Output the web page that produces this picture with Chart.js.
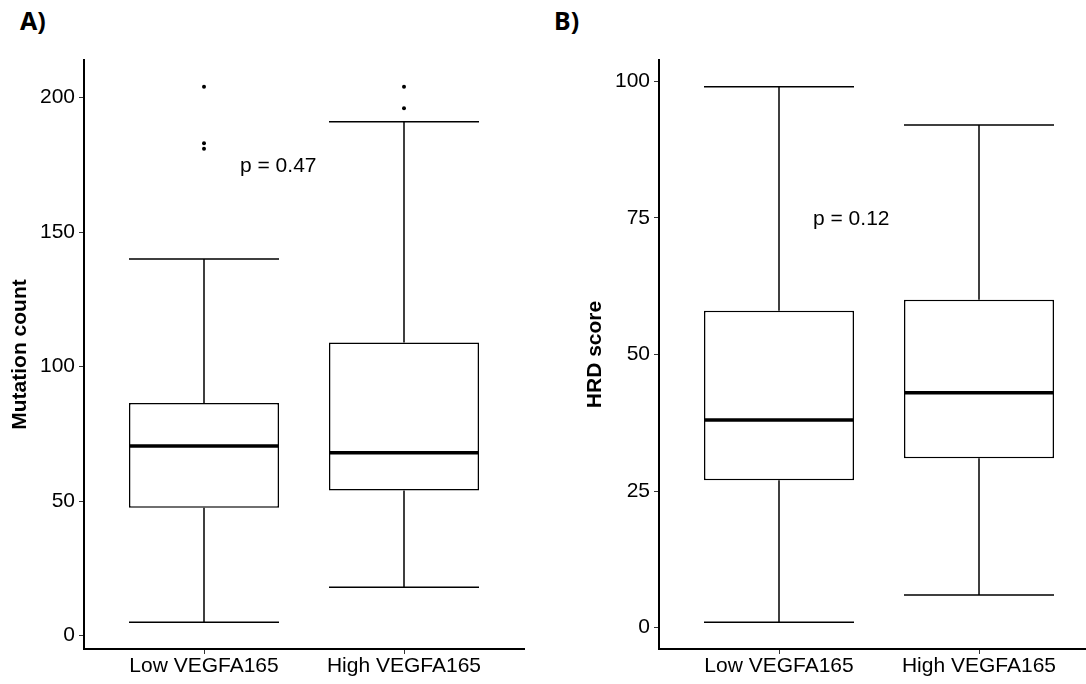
<!DOCTYPE html>
<html>
<head>
<meta charset="utf-8">
<title>VEGFA165 box plots</title>
<script src="https://cdn.jsdelivr.net/npm/chart.js@4.4.1/dist/chart.umd.min.js"></script>
<style>
  html, body { margin: 0; padding: 0; background: #fff; overflow: hidden; }
  body { width: 1086px; height: 684px; position: relative; }
  canvas { position: absolute; top: 0; }
  #chart-a { left: 0; }
  #chart-b { left: 575px; }
  .panel-tag { position: absolute; top: 3px; font: bold 25px 'Noto Sans', sans-serif; color: #000; }
</style>
</head>
<body>
<div class="panel-tag" style="left:20px">A)</div>
<div class="panel-tag" style="left:554px">B)</div>
<canvas id="chart-a" width="543" height="684"></canvas>
<canvas id="chart-b" width="543" height="684"></canvas>
<script>
const groups = ['Low VEGFA165', 'High VEGFA165'];
const groupPos = [1, 2];

// Mutation count, panel A
const mutMin = [5, 18];
const mutQ1 = [47.5, 54];
const mutMedian = [70.5, 68];
const mutQ3 = [86.5, 109];
const mutMax = [140, 191];
const mutOutliers = [[204, 183, 181], [204, 196]];
const mutTicks = [0, 50, 100, 150, 200];

// HRD score, panel B
const hrdMin = [1, 6];
const hrdQ1 = [27, 31];
const hrdMedian = [38, 43];
const hrdQ3 = [58, 60];
const hrdMax = [99, 92];
const hrdOutliers = [[], []];
const hrdTicks = [0, 25, 50, 75, 100];

// p-value labels (text, left x in group units, y in data units)
const pLabels = ['p = 0.47', 'p = 0.12'];
const pLabelX = [1.18, 1.17];
const pLabelY = [174.3, 74.7];

Chart.defaults.font.family = "'Liberation Sans', Arial, Helvetica, sans-serif";
Chart.defaults.font.size = 21;
Chart.defaults.color = '#000';

// whiskers, caps and medians, placed from the bar elements and the y scale
const boxParts = {
    id: 'boxParts',
    afterDatasetsDraw(chart, args, opts) {
        const ctx = chart.ctx;
        const y = chart.scales.y;
        const bars = chart.getDatasetMeta(0).data;
        ctx.save();
        ctx.strokeStyle = '#000';
        bars.forEach((bar, i) => {
            const {x, width} = bar.getProps(['x', 'width'], true);
            const half = width / 2;
            const pMin = y.getPixelForValue(opts.mins[i]);
            const pMax = y.getPixelForValue(opts.maxs[i]);
            const pQ1 = y.getPixelForValue(opts.q1s[i]);
            const pQ3 = y.getPixelForValue(opts.q3s[i]);
            const pMed = y.getPixelForValue(opts.medians[i]);
            ctx.lineWidth = 1.5;
            ctx.beginPath();
            ctx.moveTo(x, pQ3); ctx.lineTo(x, pMax);
            ctx.moveTo(x, pQ1); ctx.lineTo(x, pMin);
            ctx.moveTo(x - half, pMax); ctx.lineTo(x + half, pMax);
            ctx.moveTo(x - half, pMin); ctx.lineTo(x + half, pMin);
            ctx.stroke();
            ctx.lineWidth = 3.5;
            ctx.beginPath();
            ctx.moveTo(x - half, pMed); ctx.lineTo(x + half, pMed);
            ctx.stroke();
        });
        ctx.restore();
    },
    afterDraw(chart, args, opts) {
        const ctx = chart.ctx;
        ctx.save();
        ctx.fillStyle = '#000';
        ctx.font = "21px 'Liberation Sans', Arial, sans-serif";
        ctx.textAlign = 'left';
        ctx.textBaseline = 'middle';
        ctx.fillText(opts.pText, chart.scales.x.getPixelForValue(opts.pX), chart.scales.y.getPixelForValue(opts.pY));
        ctx.restore();
    }
};

function buildBoxChart(canvasId, mins, q1s, medians, q3s, maxs, outliers, yTicks, yTitle, pText, pX, pY) {
    const allValues = mins.concat(maxs, outliers.flat());
    const lo = Math.min(...allValues);
    const hi = Math.max(...allValues);
    const pad = (hi - lo) * 0.05;

    const boxData = groupPos.map((g, i) => ({x: g, y: [q1s[i], q3s[i]]}));
    const outlierData = [];
    outliers.forEach((list, i) => list.forEach(v => outlierData.push({x: groupPos[i], y: v})));

    return new Chart(document.getElementById(canvasId), {
        type: 'bar',
        data: {
            datasets: [{
                type: 'bar',
                data: boxData,
                backgroundColor: '#fff',
                borderColor: '#000',
                borderWidth: 1.5,
                borderSkipped: false,
                categoryPercentage: 0.75,
                barPercentage: 1
            }, {
                type: 'scatter',
                data: outlierData,
                pointRadius: 2,
                pointBackgroundColor: '#000',
                pointBorderWidth: 0
            }]
        },
        options: {
            responsive: false,
            animation: false,
            devicePixelRatio: 1,
            layout: {padding: {left: 0, top: 60, right: 19, bottom: 0}},
            plugins: {
                legend: {display: false},
                tooltip: {enabled: false},
                boxParts: {mins, q1s, medians, q3s, maxs, pText, pX, pY}
            },
            scales: {
                x: {
                    type: 'linear',
                    offset: false,
                    min: 0.4,
                    max: 2.6,
                    afterBuildTicks: (scale) => { scale.ticks = groupPos.map(v => ({value: v})); },
                    afterFit: (scale) => { scale.height = 35; },
                    ticks: {
                        padding: 0,
                        color: '#000',
                        callback: (value) => groups[groupPos.indexOf(value)]
                    },
                    grid: {offset: false, drawOnChartArea: false, drawTicks: true, tickLength: 5, color: '#333', lineWidth: 1},
                    border: {display: true, color: '#000', width: 2}
                },
                y: {
                    type: 'linear',
                    min: lo - pad,
                    max: hi + pad,
                    afterBuildTicks: (scale) => { scale.ticks = yTicks.map(v => ({value: v})); },
                    afterFit: (scale) => { scale.width = 84; },
                    ticks: {padding: 4, color: '#000'},
                    grid: {drawOnChartArea: false, drawTicks: true, tickLength: 5, color: '#333', lineWidth: 1},
                    border: {display: true, color: '#000', width: 2},
                    title: {
                        display: true,
                        text: yTitle,
                        color: '#000',
                        font: {size: 21, weight: 'bold'},
                        padding: {top: 8, bottom: 0}
                    }
                }
            }
        },
        plugins: [boxParts]
    });
}

buildBoxChart('chart-a', mutMin, mutQ1, mutMedian, mutQ3, mutMax, mutOutliers, mutTicks,
    'Mutation count', pLabels[0], pLabelX[0], pLabelY[0]);
buildBoxChart('chart-b', hrdMin, hrdQ1, hrdMedian, hrdQ3, hrdMax, hrdOutliers, hrdTicks,
    'HRD score', pLabels[1], pLabelX[1], pLabelY[1]);
</script>
</body>
</html>
